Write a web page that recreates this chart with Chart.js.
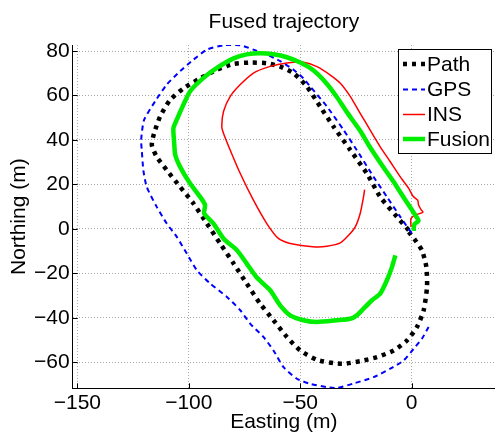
<!DOCTYPE html>
<html>
<head>
<meta charset="utf-8">
<script src="https://cdn.jsdelivr.net/npm/chart.js@4.4.1/dist/chart.umd.min.js"></script>
<style>
html, body { margin: 0; padding: 0; background: #fff; overflow: hidden; }
canvas { display: block; }
</style>
</head>
<body>
<canvas id="chart0" width="495" height="436"></canvas>
<script>
// trajectories in metres (easting, northing)

const pathX = [-1.3, -6.6, -14.1, -20.1, -27.5, -35.0, -41.0, -47.0, -53.0, -59.0, -65.0, -72.3, -79.9, -87.4, -94.9, -102.4, -108.4, -112.9, -115.6, -116.6, -114.4, -109.9, -103.9, -97.9, -91.9, -85.9, -79.9, -74.0, -68.0, -62.0, -56.0, -50.0, -42.5, -35.0, -30.5, -23.1, -15.6, -8.1, -2.1, 2.4, 5.4, 6.9, 6.6, 4.6, 1.6, -1.3];
const pathY = [-0.6, 5.4, 14.4, 24.9, 35.4, 45.9, 54.9, 64.0, 70.0, 73.0, 74.5, 74.8, 74.2, 71.5, 67.7, 63.2, 58.0, 50.5, 42.9, 37.7, 32.4, 26.4, 18.9, 11.4, 2.4, -6.6, -15.6, -24.6, -33.6, -41.1, -48.6, -54.7, -58.9, -60.4, -60.7, -59.5, -57.7, -54.7, -50.2, -44.1, -36.6, -26.1, -17.1, -9.6, -5.1, -1.4];

const gpsX = [7.6, 4.6, 0.9, -3.6, -9.6, -17.1, -26.0, -33.5, -38.0, -45.5, -51.5, -57.5, -62.0, -66.5, -72.5, -76.9, -82.9, -90.4, -96.4, -100.9, -105.4, -109.9, -114.4, -118.9, -120.4, -121.1, -121.4, -120.1, -115.1, -109.9, -103.9, -97.9, -91.9, -84.4, -76.9, -71.0, -65.0, -59.0, -53.0, -48.5, -45.5, -38.0, -30.5, -24.6, -17.1, -11.1, -5.1, 0.1];
const gpsY = [-44.1, -49.4, -53.9, -59.2, -62.9, -66.7, -69.5, -71.6, -71.2, -69.7, -67.4, -62.2, -54.7, -48.6, -42.6, -36.6, -30.6, -24.6, -18.6, -11.1, -3.6, 2.4, 9.9, 18.9, 26.4, 35.4, 39.9, 48.9, 57.4, 64.9, 70.9, 76.1, 80.6, 82.6, 82.6, 80.6, 78.4, 75.4, 71.6, 67.6, 64.0, 55.0, 44.4, 35.4, 23.4, 14.4, 5.4, -2.1];

const insX = [-0.3, -0.3, 1.6, 5.1, 4.2, 3.1, 2.7, 0.6, -1.3, -5.1, -9.6, -14.1, -18.6, -23.1, -27.5, -32.0, -36.5, -42.5, -48.5, -56.0, -63.5, -71.0, -76.9, -81.4, -84.4, -85.2, -84.4, -81.4, -76.9, -71.0, -65.0, -59.7, -54.5, -43.3, -38.0, -32.0, -28.3, -25.3, -23.1, -21.6, -21.1];
const insY = [0.9, 4.7, 6.2, 7.5, 8.7, 10.7, 12.9, 14.7, 18.2, 23.4, 30.2, 36.9, 44.4, 52.0, 59.5, 65.5, 69.2, 73.0, 74.9, 74.6, 73.1, 70.1, 64.9, 59.6, 52.9, 46.1, 42.9, 35.4, 24.9, 12.9, 2.4, -4.4, -6.6, -8.1, -7.8, -6.3, -2.9, 0.9, 6.9, 14.4, 17.7];

const fusionX = [0.9, 1.2, 3.1, 1.6, -0.6, -3.6, -8.1, -12.6, -18.6, -23.1, -29.0, -33.5, -38.0, -44.0, -50.0, -56.0, -62.0, -68.0, -74.0, -79.9, -87.4, -93.4, -99.4, -102.4, -105.1, -106.9, -106.6, -106.1, -103.9, -99.4, -94.9, -92.7, -93.1, -88.9, -84.4, -78.4, -74.0, -69.5, -63.5, -59.0, -54.5, -48.5, -42.5, -33.5, -27.5, -24.6, -21.6, -17.8, -14.1, -11.1, -8.8, -7.3];
const fusionY = [-0.9, 2.1, 3.6, 6.2, 9.6, 14.1, 21.2, 27.6, 36.6, 44.1, 52.4, 59.2, 65.2, 71.2, 74.8, 77.2, 78.5, 79.0, 78.5, 76.7, 72.4, 67.9, 61.9, 55.9, 49.8, 45.3, 39.3, 33.3, 27.9, 20.4, 14.4, 10.7, 6.9, 2.4, -4.4, -9.6, -15.6, -21.9, -27.6, -34.4, -38.9, -41.1, -41.9, -41.1, -40.4, -38.9, -35.9, -32.1, -29.1, -23.1, -17.1, -11.9];

const seriesNames = ['Path', 'GPS', 'INS', 'Fusion'];
const xTicks = [-150, -100, -50, 0];
const yTicks = [-60, -40, -20, 0, 20, 40, 60, 80];

const FONT = "'Liberation Sans', Arial, Helvetica, sans-serif";
const FSIZE = 21;

function toPoints(xs, ys) {
  return xs.map((x, i) => ({ x: x, y: ys[i] }));
}

function minusLabel(v) {
  return v < 0 ? '\u2212' + Math.abs(v) : String(v);
}

// matlab style legend box + inward tick marks
const matlabBits = {
  id: 'matlabBits',
  afterDraw(chart) {
    const ctx = chart.ctx;
    const area = chart.chartArea;
    const xs = chart.scales.x, ys = chart.scales.y;
    ctx.save();
    ctx.strokeStyle = '#000';
    ctx.lineWidth = 1;
    ctx.setLineDash([]);
    ctx.beginPath();
    xTicks.forEach(v => {
      const px = Math.round(xs.getPixelForValue(v)) + 0.5;
      ctx.moveTo(px, area.bottom);
      ctx.lineTo(px, area.bottom - 5);
    });
    yTicks.forEach(v => {
      const py = Math.round(ys.getPixelForValue(v)) + 0.5;
      ctx.moveTo(area.left, py);
      ctx.lineTo(area.left + 5, py);
    });
    ctx.stroke();

    // legend
    const bx = 398.5, by = 49.5, bw = 93, bh = 104;
    ctx.fillStyle = '#fff';
    ctx.fillRect(bx, by, bw, bh);
    ctx.strokeRect(bx, by, bw, bh);
    const rows = [64, 89.5, 114.5, 139];
    ctx.font = FSIZE + 'px ' + FONT;
    ctx.textBaseline = 'middle';
    ctx.textAlign = 'left';
    chart.data.datasets.forEach((ds, i) => {
      const y = rows[i];
      ctx.beginPath();
      ctx.strokeStyle = ds.borderColor;
      ctx.lineWidth = ds.borderWidth;
      ctx.setLineDash(ds.borderDash || []);
      ctx.lineCap = 'butt';
      ctx.moveTo(403, y);
      ctx.lineTo(425, y);
      ctx.stroke();
      ctx.setLineDash([]);
      ctx.fillStyle = '#000';
      ctx.fillText(ds.label, 427, y + 1);
    });
    ctx.restore();
  }
};

new Chart(document.getElementById('chart0').getContext('2d'), {
  type: 'scatter',
  data: {
    datasets: [
      { label: seriesNames[0], data: toPoints(pathX, pathY), borderColor: '#000000', borderWidth: 4.5, borderDash: [4, 5], order: 4 },
      { label: seriesNames[1], data: toPoints(gpsX, gpsY), borderColor: '#0000ff', borderWidth: 2, borderDash: [5, 4], order: 3 },
      { label: seriesNames[2], data: toPoints(insX, insY), borderColor: '#ff0000', borderWidth: 1.5, order: 2 },
      { label: seriesNames[3], data: toPoints(fusionX, fusionY), borderColor: '#00ee00', borderWidth: 4.5, order: 1 }
    ].map(d => Object.assign(d, { showLine: true, pointRadius: 0, tension: 0.2, fill: false }))
  },
  options: {
    responsive: false,
    animation: false,
    layout: { padding: 0 },
    plugins: {
      legend: { display: false },
      tooltip: { enabled: false },
      title: {
        display: true,
        text: 'Fused trajectory',
        fullSize: false,
        color: '#000',
        font: { family: FONT, size: FSIZE, weight: 'normal' },
        padding: { top: 10, bottom: 9.8 }
      }
    },
    scales: {
      x: {
        type: 'linear',
        min: -152.1,
        max: 37.4,
        afterBuildTicks: s => { s.ticks = xTicks.map(v => ({ value: v })); },
        afterFit: s => { s.height = 47.7; },
        ticks: { color: '#000', padding: 2, font: { family: FONT, size: FSIZE }, callback: minusLabel, maxRotation: 0 },
        grid: { color: '#a8a8a8', drawTicks: false },
        border: { display: true, color: '#000', width: 1, dash: [1, 2] },
        title: { display: true, text: 'Easting (m)', color: '#000', font: { family: FONT, size: FSIZE }, padding: { top: 0, bottom: 1 } }
      },
      y: {
        type: 'linear',
        min: -71.7,
        max: 82.7,
        afterBuildTicks: s => { s.ticks = yTicks.map(v => ({ value: v })); },
        afterFit: s => { s.width = 72.7; },
        ticks: { color: '#000', padding: 3, font: { family: FONT, size: FSIZE }, callback: minusLabel },
        grid: { color: '#a8a8a8', drawTicks: false },
        border: { display: true, color: '#000', width: 1, dash: [1, 2] },
        title: { display: true, text: 'Northing (m)', color: '#000', font: { family: FONT, size: FSIZE }, padding: { top: 7, bottom: 0 } }
      }
    }
  },
  plugins: [matlabBits]
});
</script>
</body>
</html>
